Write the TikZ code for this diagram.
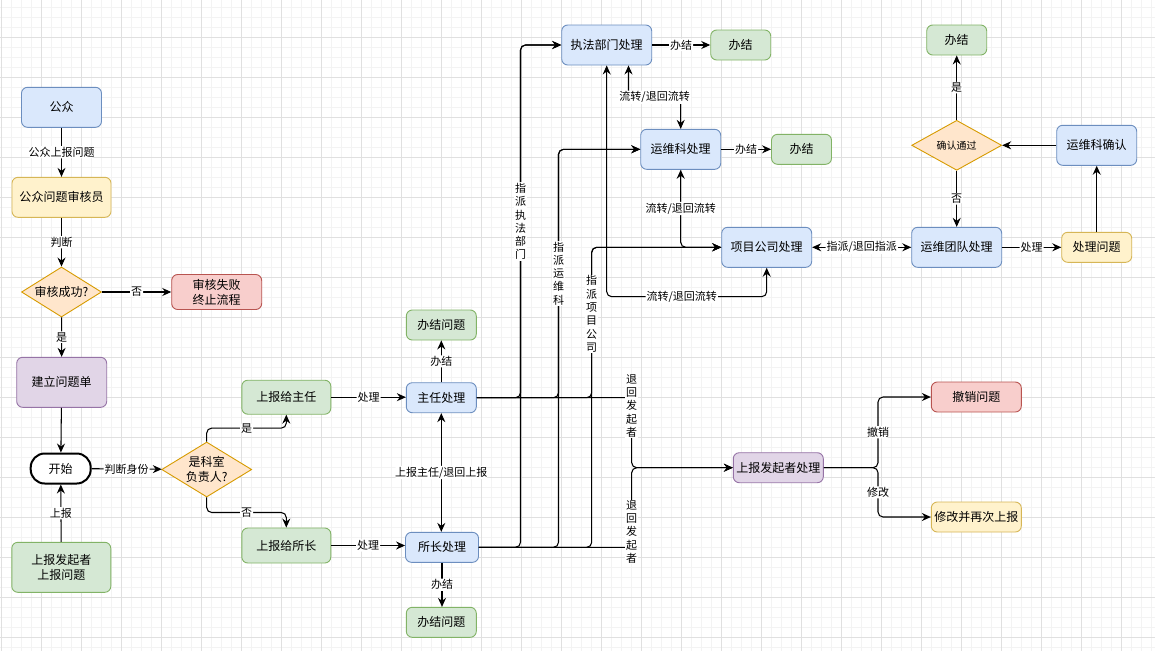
\documentclass[tikz,border=0pt]{standalone}
\usepackage{fontspec}
\setmainfont{Noto Sans CJK SC}
\usetikzlibrary{arrows.meta,shapes.geometric,calc}
\definecolor{blueF}{HTML}{DAE8FC}\definecolor{blueD}{HTML}{6C8EBF}
\definecolor{yelF}{HTML}{FFF2CC}\definecolor{yelD}{HTML}{D6B656}
\definecolor{redF}{HTML}{F8CECC}\definecolor{redD}{HTML}{B85450}
\definecolor{purF}{HTML}{E1D5E7}\definecolor{purD}{HTML}{9673A6}
\definecolor{grnF}{HTML}{D5E8D4}\definecolor{grnD}{HTML}{82B366}
\definecolor{orF}{HTML}{FFE6CC}\definecolor{orD}{HTML}{D79B00}
\definecolor{gmaj}{HTML}{E0E0E0}\definecolor{gmin}{HTML}{F3F3F3}
\begin{document}
\begin{tikzpicture}[x=1pt,y=-1pt,
  >={Stealth[length=9pt,width=8pt,inset=3pt]},
  nd/.style={draw, line width=0.9pt, rounded corners=6pt, inner sep=0pt, align=center, font=\fontsize{12pt}{15pt}\selectfont, text=black},
  wh/.style 2 args={minimum width=#1pt, minimum height=#2pt},
  nblue/.style={nd, fill=blueF, draw=blueD},
  nyel/.style={nd, fill=yelF, draw=yelD},
  nred/.style={nd, fill=redF, draw=redD},
  npur/.style={nd, fill=purF, draw=purD},
  ngrn/.style={nd, fill=grnF, draw=grnD},
  dia/.style={draw=orD, fill=orF, diamond, aspect=1.6, line width=0.9pt, inner sep=0pt, align=center, font=\fontsize{12pt}{15pt}\selectfont, text=black},
  arr/.style={draw, line width=1.05pt, ->, rounded corners=5pt},
  lbl/.style={fill=white, inner sep=1pt, font=\fontsize{11pt}{13.3pt}\selectfont, text=black},
  vlbl/.style={lbl, align=center, inner sep=0.8pt},
  gminor/.style={draw=gmin, line width=0.5pt},
  gmajor/.style={draw=gmaj, line width=0.8pt}
]
\useasboundingbox (0,0) rectangle (1155,651);
\fill[white] (0,0) rectangle (1155,651);
% grid
\foreach \i in {0,...,115} { \draw[gminor] ({1.7+10*\i},0) -- ++(0,651); }
\foreach \i in {0,...,65} { \draw[gminor] (0,{-2.7+10*\i}) -- ++(1155,0); }
\foreach \i in {0,...,28} { \draw[gmajor] ({1.7+40*\i},0) -- ++(0,651); }
\foreach \i in {1,...,16} { \draw[gmajor] (0,{-2.7+40*\i}) -- ++(1155,0); }

% nodes
\node[nblue, wh={80}{40}] (pub) at (61.5,107.3) {公众};
\node[nyel, wh={99}{40}] (aud) at (61.5,197.3) {公众问题审核员};
\node[dia, wh={80}{50}] (ok) at (61.5,292) {审核成功?};
\node[nred, wh={90}{35}] (fail) at (216.7,292) {审核失败\\终止流程};
\node[npur, wh={90}{50}] (bill) at (61.7,382.3) {建立问题单};
\node[nd, fill=white, line width=2pt, rounded corners=14pt, wh={60}{30}] (start) at (60.7,468.5) {开始};
\node[ngrn, wh={99}{50}] (rep) at (61.3,567.3) {上报发起者\\上报问题};
\node[dia, wh={90}{55}] (head) at (206.7,469.5) {是科室\\负责人?};
\node[ngrn, wh={89}{34}] (tozr) at (286.3,397.2) {上报给主任};
\node[ngrn, wh={89}{35}] (tosz) at (286.3,545.5) {上报给所长};
\node[nblue, wh={70}{30}] (zr) at (441.3,397.7) {主任处理};
\node[nblue, wh={73}{30}] (sz) at (442,547.3) {所长处理};
\node[ngrn, wh={70}{30}] (bjt) at (441.3,325) {办结问题};
\node[ngrn, wh={70}{30}] (bjb) at (441.3,622.3) {办结问题};
\node[nblue, wh={90}{40}] (zf) at (606.7,45) {执法部门处理};
\node[ngrn, wh={60}{30}] (bj1) at (740.7,45) {办结};
\node[nblue, wh={80}{40}] (yw) at (680.7,149.3) {运维科处理};
\node[ngrn, wh={60}{30}] (bj2) at (801.5,149.3) {办结};
\node[nblue, wh={90}{40}] (xm) at (766.7,247.3) {项目公司处理};
\node[nblue, wh={90}{40}] (td) at (956.7,247.3) {运维团队处理};
\node[nyel, wh={70}{30}] (cl) at (1096.7,247.3) {处理问题};
\node[nblue, wh={80}{40}] (qr) at (1096.7,145.3) {运维科确认};
\node[dia, wh={90}{50}, font=\fontsize{10pt}{12pt}\selectfont] (tg) at (956.7,145.3) {确认通过};
\node[ngrn, wh={60}{30}] (bj3) at (956.7,40) {办结};
\node[npur, wh={90}{30}] (fq) at (778.3,467.7) {上报发起者处理};
\node[nred, wh={90}{30}] (cx) at (976.3,397) {撤销问题};
\node[nyel, wh={90}{30}] (xg) at (976.3,517) {修改并再次上报};

% bend points
\coordinate (cZF) at (520.5,45);
\coordinate (cYW) at (558.5,149.3);
\coordinate (cXM) at (591.7,247.3);
\coordinate (cFQ) at (631.7,467.7);
\coordinate (cA) at (628.5,97.3);
\coordinate (cB) at (681.7,296.7);
\coordinate (cC) at (878,397);
\coordinate (cD) at (878,517);

% edges
\draw[arr] (pub) -- node[lbl]{公众上报问题} (aud);
\draw[arr] (aud) -- node[lbl]{判断} (ok);
\draw[arr] (ok) -- node[lbl]{否} (fail);
\draw[arr] (ok) -- node[lbl]{是} (bill);
\draw[arr] (bill) -- (start);
\draw[arr] (rep) -- node[lbl]{上报} (start);
\draw[arr] (start) -- node[lbl]{判断身份} (head);
\draw[arr] (head.north) |- ($(head.north)!.5!(tozr.south)$) node[lbl]{是} -| (tozr.south);
\draw[arr] (head.south) |- ($(head.south)!.5!(tosz.north)$) node[lbl]{否} -| (tosz.north);
\draw[arr] (tozr.east) -- node[lbl]{处理} (tozr.east -| zr.west);
\draw[arr] (tosz.east) -- node[lbl]{处理} (tosz.east -| sz.west);
\draw[arr] (zr) -- node[lbl]{办结} (bjt);
\draw[arr] (sz.south) -- node[lbl]{办结} (sz.south |- bjb.north);
\draw[arr, <->] (zr.south) -- node[lbl]{上报主任/退回上报} (zr.south |- sz.north);
\foreach \s in {zr,sz} {
  \draw[arr] (\s.east) -| (cZF) -- (zf.west);
  \draw[arr] (\s.east) -| (cYW) -- (yw.west);
  \draw[arr] (\s.east) -| (cXM) -- (xm.west);
  \draw[arr] (\s.east) -| (cFQ) -- (fq.west);
}
\draw[arr] (zf) -- node[lbl]{办结} (bj1);
\draw[arr] (yw) -- node[lbl]{办结} (bj2);
\draw[arr, <->] (yw.north) |- node[lbl, pos=0.75]{流转/退回流转} (cA) -- (cA |- zf.south);
\draw[arr, <->] (yw.south) |- node[lbl, pos=0.25]{流转/退回流转} (xm.west);
\draw[arr, <->] (zf.south) |- (cB) node[lbl]{流转/退回流转} -| (xm.south);
\draw[arr, <->] (xm) -- node[lbl]{指派/退回指派} (td);
\draw[arr] (td) -- node[lbl]{处理} (cl);
\draw[arr] (cl) -- (qr);
\draw[arr] (qr) -- (tg);
\draw[arr] (tg) -- node[lbl]{是} (bj3);
\draw[arr] (tg) -- node[lbl]{否} (td);
\draw[arr] (fq.east) -| node[lbl, pos=0.75]{撤销} (cC) -- (cx.west);
\draw[arr] (fq.east) -| node[lbl, pos=0.75]{修改} (cD) -- (xg.west);

% vertical edge labels
\node[vlbl] (l1) at (520.5,221.5) {指\\派\\执\\法\\部\\门};
\node[vlbl] (l2) at (558.5,273.5) {指\\派\\运\\维\\科};
\node[vlbl] (l3) at (591.7,314) {指\\派\\项\\目\\公\\司};
\node[vlbl] (l4) at (631.7,406) {退\\回\\发\\起\\者};
\node[vlbl] (l5) at (631.7,532) {退\\回\\发\\起\\者};
\end{tikzpicture}
\end{document}
